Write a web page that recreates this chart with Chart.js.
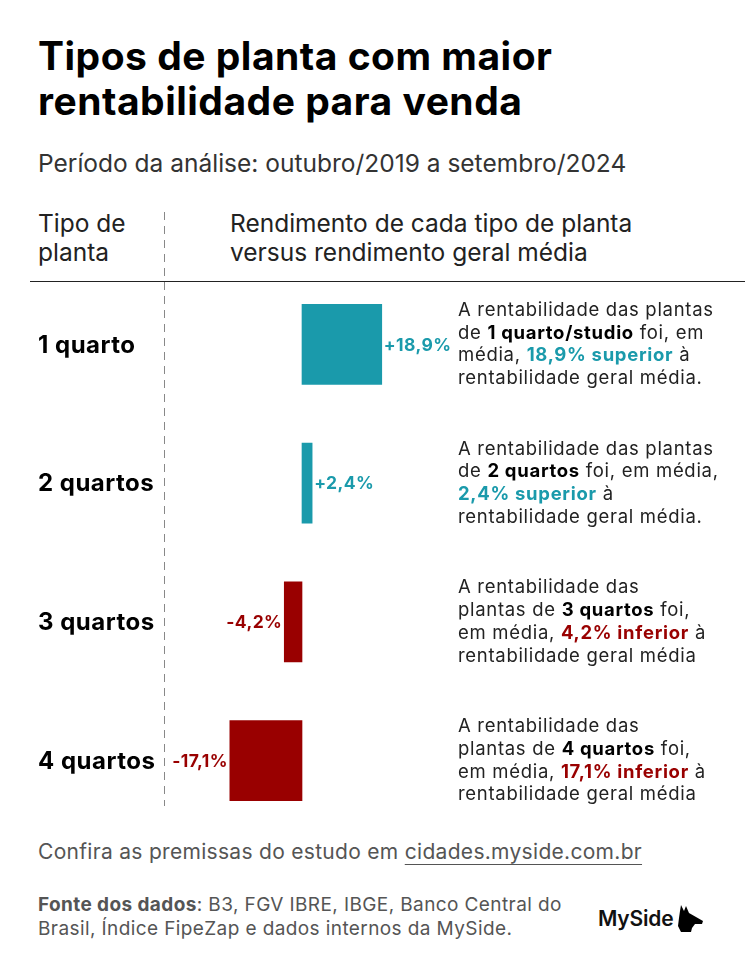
<!DOCTYPE html>
<html lang="pt-BR">
<head>
<meta charset="utf-8">
<script src="https://cdn.jsdelivr.net/npm/chart.js@4.4.1/dist/chart.umd.min.js"></script>
<style>
  html, body { margin:0; padding:0; background:#fff; }
  body { width:747px; height:973px; position:relative; overflow:hidden; font-family:Inter, "Noto Sans", sans-serif; color:#111; }
  .abs { position:absolute; }
  #title { left:38px; top:33px; font-size:39px; font-weight:700; line-height:45px; letter-spacing:0.5px; color:#000; }
  #subtitle { left:38px; top:149px; font-size:24.5px; line-height:28px; color:#333; }
  .hdr { top:208.5px; font-size:24.5px; line-height:29px; color:#222; }
  #hline { left:30px; top:281px; width:715px; height:0; border-top:1.5px solid #222; }
  #vline { left:164px; top:212px; width:1px; height:594px;
           background:repeating-linear-gradient(to bottom, #888 0 8px, transparent 8px 14px); }
  #chartWrap { left:0; top:275px; width:747px; height:555px; }
  .note { position:absolute; left:458px; font-size:18.5px; letter-spacing:0.7px; line-height:22.7px; color:#222; white-space:nowrap; }
  .note b { font-weight:700; color:#000; }
  .pos { color:#1A9AAB !important; font-weight:700; }
  .neg { color:#990000 !important; font-weight:700; }
  #confira { left:38px; top:839px; font-size:21px; letter-spacing:0.3px; line-height:26px; color:#555; }
  #confira span { text-decoration:underline; text-underline-offset:5px; text-decoration-thickness:1px; }
  #fonte { left:38px; top:893px; font-size:19px; letter-spacing:0.4px; line-height:24px; color:#555; }
  #fonte b { font-weight:700; }
  #logo { left:598px; top:903px; font-size:21px; font-weight:600; color:#111; letter-spacing:-0.2px; display:flex; align-items:center; }
</style>
</head>
<body>
<div id="title" class="abs">Tipos de planta com maior<br>rentabilidade para venda</div>
<div id="subtitle" class="abs">Período da análise: outubro/2019 a setembro/2024</div>
<div class="abs hdr" style="left:38px;">Tipo de<br>planta</div>
<div class="abs hdr" style="left:230px;">Rendimento de cada tipo de planta<br>versus rendimento geral média</div>
<div id="vline" class="abs"></div>
<div id="hline" class="abs"></div>
<div id="chartWrap" class="abs"><canvas id="c" width="747" height="555"></canvas></div>
<div id="notes"></div>
<div id="confira" class="abs">Confira as premissas do estudo em <span>cidades.myside.com.br</span></div>
<div id="fonte" class="abs"><b>Fonte dos dados</b>: B3, FGV IBRE, IBGE, Banco Central do<br>Brasil, Índice FipeZap e dados internos da MySide.</div>
<div id="logo" class="abs">MySide<svg width="30" height="30" viewBox="0 0 30 30" style="margin-left:2px"><path d="M6 2 L9 8 L11 3 L14 10 L21 14 L28 18 L27 21 L20 21 L17 25 L16 29 L6 29 L3 23 L4 15 L5 8 Z" fill="#000"/></svg></div>

<script>
const categories = ["1 quarto", "2 quartos", "3 quartos", "4 quartos"];
const values = [18.9, 2.4, -4.2, -17.1];
const valueLabels = ["+18,9%", "+2,4%", "-4,2%", "-17,1%"];
const notes = [
  ['A rentabilidade das plantas', 'de <b>1 quarto/studio</b> foi, em', 'média, <span class="pos">18,9% superior</span> à', 'rentabilidade geral média.'],
  ['A rentabilidade das plantas', 'de <b>2 quartos</b> foi, em média,', '<span class="pos">2,4% superior</span> à', 'rentabilidade geral média.'],
  ['A rentabilidade das', 'plantas de <b>3 quartos</b> foi,', 'em média, <span class="neg">4,2% inferior</span> à', 'rentabilidade geral média'],
  ['A rentabilidade das', 'plantas de <b>4 quartos</b> foi,', 'em média, <span class="neg">17,1% inferior</span> à', 'rentabilidade geral média']
];
const TEAL = '#1A9AAB', RED = '#990000';
const WRAP_TOP = 275;

const labelPlugin = {
  id: 'labels',
  afterDatasetsDraw(chart) {
    const ctx = chart.ctx;
    const meta = chart.getDatasetMeta(0);
    const y = chart.scales.y;
    ctx.save();
    ctx.textBaseline = 'middle';
    categories.forEach((cat, i) => {
      const yc = y.getPixelForValue(i);
      ctx.fillStyle = '#000';
      ctx.font = '700 24px Inter, "Noto Sans", sans-serif';
      ctx.letterSpacing = '0.5px';
      ctx.textAlign = 'left';
      ctx.fillText(cat, 38, yc + 1);
      const bar = meta.data[i];
      ctx.font = '700 17.5px Inter, "Noto Sans", sans-serif';
      ctx.letterSpacing = '0.4px';
      if (values[i] >= 0) {
        ctx.fillStyle = TEAL; ctx.textAlign = 'left';
        ctx.fillText(valueLabels[i], bar.x + 2, yc + 1);
      } else {
        ctx.fillStyle = RED; ctx.textAlign = 'right';
        ctx.fillText(valueLabels[i], bar.x - 2, yc + 1);
      }
    });
    ctx.restore();
    const holder = document.getElementById('notes');
    holder.innerHTML = '';
    notes.forEach((lines, i) => {
      const yc = y.getPixelForValue(i) + WRAP_TOP;
      const d = document.createElement('div');
      d.className = 'note';
      d.innerHTML = lines.join('<br>');
      d.style.top = (yc - lines.length * 22.7 / 2 - 1) + 'px';
      holder.appendChild(d);
    });
  }
};

new Chart(document.getElementById('c'), {
  type: 'bar',
  data: {
    labels: categories,
    datasets: [{
      data: values,
      backgroundColor: values.map(v => v >= 0 ? TEAL : RED),
      barThickness: 80,
      borderWidth: 0
    }]
  },
  options: {
    indexAxis: 'y',
    responsive: false,
    animation: false,
    layout: { padding: { left: 133.2, right: 276.2, top: 0, bottom: 0 } },
    plugins: { legend: { display: false }, tooltip: { enabled: false } },
    scales: {
      x: { display: false, min: -40, max: 40 },
      y: { display: false }
    }
  },
  plugins: [labelPlugin]
});
</script>
</body>
</html>
